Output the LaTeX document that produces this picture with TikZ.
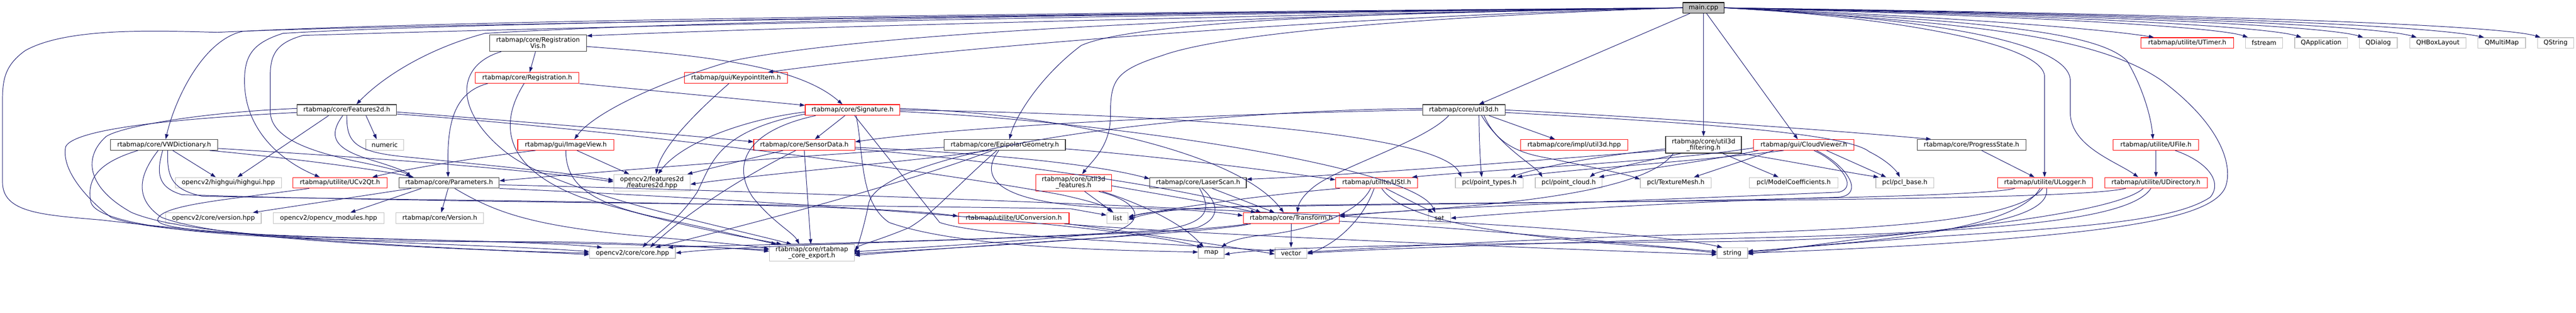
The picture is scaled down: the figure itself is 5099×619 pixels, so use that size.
\documentclass[tikz,border=0pt]{standalone}
\usepackage{fontspec}
\setmainfont{DejaVu Sans}
\usetikzlibrary{arrows.meta}
\definecolor{edgec}{HTML}{191970}
\definecolor{grayb}{HTML}{BFBFBF}
\tikzset{
 box/.style={draw, line width=1.3pt, inner sep=0pt, align=center, font=\fontsize{12.6}{12.2}\selectfont, text=black, minimum height=21pt},
 gbox/.style={box, draw=grayb},
 rbox/.style={box, draw=red},
 kbox/.style={box, draw=black!80},
 mbox/.style={box, draw=black, fill=grayb},
 tall/.style={minimum height=33pt},
 dep/.style={draw=edgec, line width=1pt, -{Triangle[length=10pt,width=7pt]}}
}
\begin{document}
\begin{tikzpicture}[x=1pt,y=-1pt]
\useasboundingbox (0,0) rectangle (5099,619);
% row 0
\node[mbox, minimum width=82pt] (main) at (3372,15.5) {main.cpp};
% row 1
\node[kbox, tall, minimum width=192pt] (regvis) at (1065,85) {rtabmap/core/Registration\\Vis.h};
\node[rbox, minimum width=183pt] (utimer) at (4329.5,85) {rtabmap/utilite/UTimer.h};
\node[gbox, minimum width=73pt] (fstream) at (4481.5,85) {fstream};
\node[gbox, minimum width=105pt] (qapp) at (4594.5,85) {QApplication};
\node[gbox, minimum width=75pt] (qdialog) at (4707.5,85) {QDialog};
\node[gbox, minimum width=111pt] (qhbox) at (4825.5,85) {QHBoxLayout};
\node[gbox, minimum width=94pt] (qmultimap) at (4952,85) {QMultiMap};
\node[gbox, minimum width=71pt] (qstring) at (5058.5,85) {QString};
% row 2
\node[rbox, minimum width=205pt] (reg) at (1043.5,154) {rtabmap/core/Registration.h};
\node[rbox, minimum width=204pt] (keypoint) at (1457,154) {rtabmap/gui/KeypointItem.h};
% row 3
\node[kbox, minimum width=197pt] (feat2d) at (686.5,217.5) {rtabmap/core/Features2d.h};
\node[rbox, minimum width=187pt] (sig) at (1687.5,217.5) {rtabmap/core/Signature.h};
\node[kbox, minimum width=163pt] (util3d) at (2897.5,217.5) {rtabmap/core/util3d.h};
% row 4
\node[kbox, minimum width=212pt] (vwdict) at (325,286.5) {rtabmap/core/VWDictionary.h};
\node[gbox, minimum width=75pt] (numeric) at (761.5,286.5) {numeric};
\node[rbox, minimum width=190pt] (imageview) at (1120,286.5) {rtabmap/gui/ImageView.h};
\node[rbox, minimum width=200pt] (sensordata) at (1592,286.5) {rtabmap/core/SensorData.h};
\node[kbox, minimum width=240pt] (epipolar) at (1989,286.5) {rtabmap/core/EpipolarGeometry.h};
\node[rbox, minimum width=212pt] (implutil3d) at (3116,286.5) {rtabmap/core/impl/util3d.hpp};
\node[kbox, tall, minimum width=150pt] (filtering) at (3372,286.5) {rtabmap/core/util3d\\\_filtering.h};
\node[rbox, minimum width=199pt] (cloudviewer) at (3570.5,286.5) {rtabmap/gui/CloudViewer.h};
\node[kbox, minimum width=215pt] (progress) at (3902.5,286.5) {rtabmap/core/ProgressState.h};
\node[rbox, minimum width=169pt] (ufile) at (4267.5,286.5) {rtabmap/utilite/UFile.h};
% row 5
\node[gbox, minimum width=210pt] (highgui) at (452,361.5) {opencv2/highgui/highgui.hpp};
\node[rbox, minimum width=186pt] (ucv2qt) at (673,361.5) {rtabmap/utilite/UCv2Qt.h};
\node[kbox, minimum width=198pt] (params) at (889,361.5) {rtabmap/core/Parameters.h};
\node[gbox, tall, minimum width=151pt] (cvfeat) at (1290.5,361.5) {opencv2/features2d\\/features2d.hpp};
\node[rbox, tall, minimum width=150pt] (features) at (2125,361.5) {rtabmap/core/util3d\\\_features.h};
\node[kbox, minimum width=191pt] (laserscan) at (2371.5,361.5) {rtabmap/core/LaserScan.h};
\node[rbox, minimum width=162pt] (ustl) at (2725,361.5) {rtabmap/utilite/UStl.h};
\node[gbox, minimum width=134pt] (pointtypes) at (2948,361.5) {pcl/point\_types.h};
\node[gbox, minimum width=132pt] (pointcloud) at (3105,361.5) {pcl/point\_cloud.h};
\node[gbox, minimum width=140pt] (texturemesh) at (3317,361.5) {pcl/TextureMesh.h};
\node[gbox, minimum width=175pt] (modelcoef) at (3550.5,361.5) {pcl/ModelCoefficients.h};
\node[gbox, minimum width=115pt] (pclbase) at (3770.5,361.5) {pcl/pcl\_base.h};
\node[rbox, minimum width=188pt] (ulogger) at (4048,361.5) {rtabmap/utilite/ULogger.h};
\node[rbox, minimum width=203pt] (udir) at (4267.5,361.5) {rtabmap/utilite/UDirectory.h};
% row 6
\node[gbox, minimum width=189pt] (cvversion) at (422.5,431.5) {opencv2/core/version.hpp};
\node[gbox, minimum width=219pt] (cvmodules) at (650.5,431.5) {opencv2/opencv\_modules.hpp};
\node[gbox, minimum width=173pt] (version) at (870.5,431.5) {rtabmap/core/Version.h};
\node[rbox, minimum width=219pt] (uconv) at (2006.5,431.5) {rtabmap/utilite/UConversion.h};
\node[gbox, minimum width=42pt] (list) at (2212,431.5) {list};
\node[rbox, minimum width=190pt] (transform) at (2556,431.5) {rtabmap/core/Transform.h};
\node[gbox, minimum width=44pt] (set) at (2849,431.5) {set};
% row 7
\node[gbox, minimum width=170pt] (corehpp) at (1252,500.5) {opencv2/core/core.hpp};
\node[gbox, tall, minimum width=168pt] (export) at (1607,500) {rtabmap/core/rtabmap\\\_core\_export.h};
\node[gbox, minimum width=51pt] (map) at (2397.5,500.5) {map};
\node[gbox, minimum width=63pt] (vector) at (2555.5,500.5) {vector};
\node[gbox, minimum width=60pt] (string) at (3429,500.5) {string};

% ---------- main.cpp ----------
\draw[dep] (main.west) .. controls (2200,24) and (900,40) .. (480,62) .. controls (400,80) and (345,200) .. ([xshift=3pt]vwdict.north);
\draw[dep] (main.west) .. controls (2300,26) and (1400,40) .. (960,66) .. controls (850,95) and (760,150) .. ([xshift=19pt]feat2d.north);
\draw[dep] (main.west) .. controls (2600,28) and (1600,52) .. ([yshift=-3pt]regvis.north east);
\draw[dep] (main.west) .. controls (2700,30) and (1900,90) .. ([xshift=63pt]keypoint.north);
\draw[dep] (main.west) .. controls (2500,30) and (1750,60) .. (1450,120) .. controls (1280,170) and (1170,230) .. ([xshift=17pt]imageview.north);
\draw[dep] (main.west) .. controls (2800,22) and (2250,40) .. (2140,90) .. controls (2060,150) and (2010,230) .. ([xshift=9pt]epipolar.north);
\draw[dep] (main.west) .. controls (3000,26) and (2450,55) .. (2300,110) .. controls (2205,140) and (2198,160) .. (2198,230) .. controls (2198,290) and (2160,320) .. ([xshift=17pt]features.north);
\draw[dep] (main.west) .. controls (2000,28) and (900,45) .. (560,66) .. controls (500,85) and (484,110) .. (484,160) .. controls (484,260) and (560,320) .. ([xshift=-40pt]ucv2qt.north);
\draw[dep] (main.west) .. controls (2000,32) and (1000,58) .. (600,70) .. controls (545,85) and (535,110) .. (535,150) -- (535,220) .. controls (535,275) and (620,300) .. (700,318) .. controls (760,330) and (800,340) .. ([xshift=-76pt]params.north);
\draw[dep] (main.west) .. controls (2000,30) and (700,50) .. (430,64) .. controls (300,60) and (130,55) .. (50,100) .. controls (8,130) and (5,160) .. (5,200) -- (5,360) .. controls (5,420) and (80,425) .. (200,435) .. controls (500,470) and (900,495) .. (corehpp.west);
\draw[dep] ([xshift=-27pt]main.south) -- ([xshift=30pt]util3d.north);
\draw[dep] (main.south) -- (filtering.north);
\draw[dep] ([xshift=6pt]main.south) -- ([xshift=-12pt]cloudviewer.north);
\draw[dep] (main.east) .. controls (3700,30) and (4040,80) .. (4047,150) -- ([xshift=-1pt]ulogger.north);
\draw[dep] (main.east) .. controls (3800,35) and (4098,80) .. (4098,160) -- (4098,225) .. controls (4100,290) and (4190,320) .. ([xshift=-35pt]udir.north);
\draw[dep] (main.east) .. controls (3900,40) and (4150,60) .. (4210,120) .. controls (4240,170) and (4258,230) .. ([xshift=-6pt]ufile.north);
\draw[dep] (main.east) .. controls (3900,45) and (4150,70) .. (4280,160) .. controls (4400,250) and (4420,330) .. (4405,370) .. controls (4380,430) and (4200,455) .. (3900,478) .. controls (3700,492) and (3550,497) .. (string.east);
\draw[dep] (main.east) .. controls (3800,30) and (4150,55) .. ([xshift=-66pt]utimer.north);
\draw[dep] (main.east) .. controls (3900,28) and (4380,50) .. ([xshift=-32pt]fstream.north);
\draw[dep] (main.east) .. controls (4000,28) and (4480,50) .. ([xshift=-39pt]qapp.north);
\draw[dep] (main.east) .. controls (4100,28) and (4600,50) .. ([xshift=-30pt]qdialog.north);
\draw[dep] (main.east) .. controls (4200,28) and (4700,50) .. ([xshift=-42pt]qhbox.north);
\draw[dep] (main.east) .. controls (4300,28) and (4800,50) .. ([xshift=-35pt]qmultimap.north);
\draw[dep] (main.east) .. controls (4400,28) and (4950,50) .. ([xshift=-30pt]qstring.north);

% ---------- RegistrationVis / Registration ----------
\draw[dep] ([xshift=-5pt]regvis.south) -- ([xshift=5pt]reg.north);
\draw[dep] ([yshift=-7pt]regvis.east) .. controls (1400,110) and (1580,130) .. ([xshift=-20pt]sig.north);
\draw[dep] ([xshift=-73pt]regvis.south) .. controls (900,130) and (900,220) .. (1000,300) .. controls (1100,380) and (1400,440) .. ([xshift=-40pt]export.north);
\draw[dep] ([xshift=-78pt]reg.south) .. controls (890,185) and (885,260) .. ([xshift=-2pt]params.north);
\draw[dep] (reg.south east) -- ([yshift=-2pt]sig.north west);
\draw[dep] ([xshift=-6pt]reg.south) .. controls (990,240) and (990,330) .. (1150,390) .. controls (1350,450) and (1480,470) .. ([xshift=-60pt]export.north);
\draw[dep] ([xshift=-14pt]keypoint.south) .. controls (1380,220) and (1310,290) .. ([xshift=8pt]cvfeat.north);

% ---------- Features2d ----------
\draw[dep] ([xshift=-36pt]feat2d.south) -- ([xshift=18pt]highgui.north);
\draw[dep] ([xshift=38pt]feat2d.south) -- ([xshift=-16pt]numeric.north);
\draw[dep] ([xshift=-8pt]feat2d.south) .. controls (640,280) and (680,300) .. (740,318) .. controls (780,330) and (805,340) .. ([xshift=-76pt]params.north);
\draw[dep] (feat2d.south) .. controls (686,280) and (700,300) .. (800,310) .. controls (1000,330) and (1150,345) .. ([yshift=5pt]cvfeat.west);
\draw[dep] ([yshift=-4pt]feat2d.east) .. controls (1000,238) and (1300,262) .. ([yshift=6pt]sensordata.west);
\draw[dep] ([yshift=-8pt]feat2d.east) .. controls (1200,255) and (1800,330) .. (2100,385) .. controls (2160,398) and (2190,408) .. ([xshift=-12pt]list.north);
\draw[dep] ([yshift=-5pt]feat2d.west) .. controls (400,232) and (150,250) .. (130,290) .. controls (120,340) and (180,400) .. (220,430) .. controls (350,480) and (1000,470) .. ([yshift=6pt]export.west);
\draw[dep] ([yshift=3pt]feat2d.west) .. controls (400,222) and (240,250) .. (210,270) .. controls (165,310) and (170,370) .. (260,420) .. controls (400,480) and (900,478) .. ([yshift=3pt]corehpp.west);

% ---------- VWDictionary ----------
\draw[dep] ([xshift=17pt]vwdict.south) -- ([xshift=-25pt]highgui.north);
\draw[dep] ([xshift=90pt]vwdict.south) .. controls (500,305) and (720,330) .. ([xshift=-70pt]params.north);
\draw[dep] ([yshift=-7pt]vwdict.east) .. controls (700,310) and (1000,330) .. ([yshift=2pt]cvfeat.west);
\draw[dep] ([xshift=-52pt]vwdict.south) .. controls (200,320) and (170,350) .. (180,400) .. controls (200,470) and (700,480) .. (1100,478) .. controls (1300,482) and (1450,490) .. ([yshift=3pt]export.west);
\draw[dep] ([xshift=-12pt]vwdict.south) .. controls (280,340) and (260,390) .. (320,430) .. controls (450,480) and (900,490) .. ([yshift=-3pt]corehpp.west);
\draw[dep] ([xshift=-3pt]vwdict.south) .. controls (310,340) and (310,370) .. (360,385) .. controls (800,400) and (1900,408) .. (2120,413) -- ([yshift=6pt]list.west);
\draw[dep] ([xshift=7pt]vwdict.south) .. controls (330,350) and (340,375) .. (400,388) .. controls (900,398) and (1700,400) .. ([yshift=4pt]uconv.west);

% ---------- UCv2Qt / Parameters ----------
\draw[dep] ([xshift=-61pt]ucv2qt.south) .. controls (450,395) and (315,405) .. (312,435) .. controls (310,475) and (1000,470) .. ([xshift=-60pt]corehpp.north);
\draw[dep] ([xshift=-75pt]params.south) -- ([xshift=78pt]cvversion.north);
\draw[dep] ([xshift=-55pt]params.south) -- ([xshift=43pt]cvmodules.north);
\draw[dep] ([xshift=-2pt]params.south) -- ([xshift=3pt]version.north);
\draw[dep] ([xshift=11pt]params.south) .. controls (980,420) and (1050,445) .. (1250,465) .. controls (1400,478) and (1480,485) .. ([yshift=8pt]export.west);
\draw[dep] (params.south east) .. controls (1500,395) and (2200,440) .. ([xshift=-18pt]map.north);
\draw[dep] ([yshift=-4pt]params.east) .. controls (1800,385) and (3200,440) .. ([xshift=-20pt]string.north);

% ---------- ImageView ----------
\draw[dep] ([xshift=-60pt]imageview.south) .. controls (950,310) and (800,335) .. ([xshift=64pt]ucv2qt.north);
\draw[dep] ([xshift=22pt]imageview.south) -- ([xshift=-45pt]cvfeat.north);
\draw[dep] (imageview.south) .. controls (1120,360) and (1160,400) .. (1300,430) .. controls (1420,455) and (1500,475) .. ([xshift=-70pt]export.north);

% ---------- Signature ----------
\draw[dep] ([xshift=-15pt]sig.south) -- ([xshift=21pt]sensordata.north);
\draw[dep] ([yshift=-4pt]sig.west) .. controls (1480,235) and (1350,280) .. ([xshift=12pt]cvfeat.north);
\draw[dep] ([yshift=-8pt]sig.west) .. controls (1420,260) and (1410,320) .. (1380,380) .. controls (1340,440) and (1290,470) .. ([xshift=20pt]corehpp.north);
\draw[dep] ([xshift=-73pt]sig.south) .. controls (1470,260) and (1450,330) .. (1490,390) .. controls (1530,440) and (1570,460) .. ([xshift=-25pt]export.north);
\draw[dep] ([yshift=3pt]sig.east) .. controls (2100,225) and (2450,300) .. ([xshift=-15pt]transform.north);
\draw[dep] (sig.east) .. controls (2300,225) and (2850,260) .. ([xshift=-55pt]pointtypes.north);
\draw[dep] ([xshift=7pt]sig.south) .. controls (1710,300) and (1700,400) .. (1760,440) .. controls (1900,490) and (2200,495) .. ([yshift=2pt]map.west);
\draw[dep] ([xshift=4pt]sig.south) -- (1860,440) .. controls (1950,470) and (2300,480) .. ([yshift=4pt]vector.west);
\draw[dep] ([yshift=-3pt]sig.east) .. controls (2200,240) and (2800,330) .. ([xshift=-8pt]set.north);

% ---------- SensorData ----------
\draw[dep] ([xshift=-42pt]sensordata.south) -- ([xshift=70pt]cvfeat.north);
\draw[dep] (sensordata.south) -- ([xshift=-2pt]export.north);
\draw[dep] ([xshift=-17pt]sensordata.south) .. controls (1450,360) and (1350,430) .. ([xshift=35pt]corehpp.north);
\draw[dep] ([yshift=-5pt]sensordata.east) .. controls (1900,300) and (2150,320) .. ([yshift=8pt]laserscan.west);
\draw[dep] ([yshift=-8pt]sensordata.east) .. controls (2000,320) and (2400,380) .. ([xshift=-60pt]transform.north);

% ---------- EpipolarGeometry ----------
\draw[dep] ([yshift=-5pt]epipolar.west) .. controls (1700,300) and (1300,330) .. ([yshift=4pt]params.east);
\draw[dep] ([xshift=-32pt]epipolar.south) .. controls (1800,320) and (1500,345) .. ([yshift=-3pt]cvfeat.east);
\draw[dep] ([xshift=-25pt]epipolar.south) .. controls (1800,360) and (1500,440) .. ([xshift=45pt]corehpp.north);
\draw[dep] ([xshift=-16pt]epipolar.south) .. controls (1880,380) and (1850,420) .. (1800,450) .. controls (1740,475) and (1700,485) .. ([yshift=4pt]export.east);
\draw[dep] ([xshift=-12pt]epipolar.south) .. controls (1930,360) and (1990,410) .. (2250,412) .. controls (2350,414) and (2420,420) .. ([yshift=5pt]transform.west);
\draw[dep] ([yshift=-8pt]epipolar.east) .. controls (2300,310) and (2500,335) .. ([yshift=6pt]ustl.west);

% ---------- util3d_features ----------
\draw[dep] ([xshift=22pt]features.south) -- ([xshift=-8pt]list.north);
\draw[dep] ([xshift=57pt]features.south) .. controls (2250,400) and (2340,440) .. ([xshift=-15pt]map.north);
\draw[dep] ([yshift=-6pt]features.east) .. controls (2300,385) and (2420,405) .. ([xshift=-70pt]transform.north);
\draw[dep] ([xshift=50pt]features.south) .. controls (2260,400) and (2270,440) .. (2200,460) .. controls (2000,480) and (1800,490) .. ([yshift=2pt]export.east);

% ---------- LaserScan ----------
\draw[dep] ([xshift=28pt]laserscan.south) -- ([xshift=-33pt]transform.north);
\draw[dep] ([xshift=8pt]laserscan.south) .. controls (2410,400) and (2420,430) .. (2370,450) .. controls (2200,475) and (1800,495) .. ([yshift=-2pt]export.east);
\draw[dep] ([xshift=3pt]laserscan.south) .. controls (2395,410) and (2400,440) .. (2300,455) .. controls (1900,480) and (1400,485) .. ([xshift=70pt]corehpp.north);

% ---------- UStl ----------
\draw[dep] ([xshift=-73pt]ustl.south) .. controls (2500,385) and (2300,415) .. ([yshift=3pt]list.east);
\draw[dep] ([xshift=18pt]ustl.south) -- ([xshift=-12pt]set.north);
\draw[dep] ([xshift=-5pt]ustl.south) .. controls (2700,430) and (2650,480) .. ([yshift=-2pt]vector.east);
\draw[dep] ([xshift=-12pt]ustl.south) .. controls (2690,420) and (2600,455) .. (2500,465) .. controls (2450,470) and (2430,480) .. ([xshift=20pt]map.north);
\draw[dep] ([xshift=10pt]ustl.south) .. controls (2780,440) and (3000,470) .. (3300,490) .. controls (3350,495) and (3380,498) .. (string.west);

% ---------- Transform ----------
\draw[dep] (transform.south) -- (vector.north);
\draw[dep] ([xshift=-80pt]transform.south) .. controls (2400,460) and (2000,480) .. ([yshift=-5pt]export.east);
\draw[dep] ([xshift=-86pt]transform.south) .. controls (2300,470) and (1500,480) .. (corehpp.east);
\draw[dep] ([yshift=-6pt]transform.east) .. controls (2900,450) and (3200,480) .. ([yshift=3pt]string.west);

% ---------- UConversion ----------
\draw[dep] ([xshift=100pt]uconv.south) .. controls (2300,460) and (3000,490) .. ([yshift=-3pt]string.west);
\draw[dep] ([xshift=105pt]uconv.south) .. controls (2250,460) and (2450,490) .. ([yshift=-2pt]vector.west);

% ---------- util3d ----------
\draw[dep] ([xshift=-30pt]util3d.south) .. controls (2820,280) and (2650,330) .. (2600,370) .. controls (2575,390) and (2570,405) .. ([xshift=12pt]transform.north);
\draw[dep] ([xshift=30pt]util3d.south) .. controls (2928,280) and (2930,320) .. ([xshift=-15pt]pointtypes.north);
\draw[dep] ([xshift=35pt]util3d.south) .. controls (2970,290) and (3040,330) .. ([xshift=-52pt]pointcloud.north);
\draw[dep] ([xshift=40pt]util3d.south) .. controls (2960,280) and (3000,300) .. (3050,310) .. controls (3150,330) and (3220,345) .. ([yshift=7pt]texturemesh.west);
\draw[dep] ([xshift=50pt]util3d.south) -- ([xshift=-38pt]implutil3d.north);
\draw[dep] (util3d.east) .. controls (3200,228) and (3600,255) .. ([xshift=-80pt]progress.north);
\draw[dep] ([yshift=-5pt]util3d.east) .. controls (3300,240) and (3650,260) .. (3700,300) .. controls (3740,320) and (3755,340) .. ([xshift=-10pt]pclbase.north);
\draw[dep] (util3d.west) .. controls (2400,225) and (1900,250) .. ([yshift=6pt]sensordata.east);
\draw[dep] ([yshift=3pt]util3d.west) .. controls (2300,220) and (1750,300) .. (1720,400) .. controls (1710,450) and (1700,480) .. ([yshift=-4pt]export.east);

% ---------- util3d_filtering ----------
\draw[dep] ([xshift=-45pt]filtering.south) .. controls (3250,320) and (3160,340) .. ([xshift=42pt]pointcloud.north);
\draw[dep] ([yshift=-8pt]filtering.west) .. controls (3150,310) and (3050,330) .. ([xshift=42pt]pointtypes.north);
\draw[dep] ([xshift=38pt]filtering.south) -- ([xshift=-30pt]modelcoef.north);
\draw[dep] (filtering.south east) .. controls (3550,320) and (3650,340) .. ([xshift=-52pt]pclbase.north);
\draw[dep] ([yshift=-11pt]filtering.west) .. controls (3000,320) and (2700,345) .. ([yshift=7pt]laserscan.east);
\draw[dep] ([xshift=-60pt]filtering.south) .. controls (3250,390) and (2900,410) .. ([yshift=6pt]transform.east);

% ---------- CloudViewer ----------
\draw[dep] ([xshift=-40pt]cloudviewer.south) .. controls (3350,320) and (3100,335) .. ([xshift=55pt]pointtypes.north);
\draw[dep] ([xshift=-90pt]cloudviewer.south) .. controls (3400,315) and (3250,335) .. ([xshift=60pt]pointcloud.north);
\draw[dep] ([xshift=-60pt]cloudviewer.south) -- ([xshift=36pt]texturemesh.north);
\draw[dep] ([xshift=45pt]cloudviewer.south) -- ([xshift=-37pt]pclbase.north);
\draw[dep] ([xshift=20pt]cloudviewer.south) .. controls (3640,320) and (3680,370) .. (3640,380) .. controls (3300,395) and (2800,410) .. ([yshift=3pt]transform.east);
\draw[dep] ([xshift=25pt]cloudviewer.south) .. controls (3660,330) and (3690,385) .. (3640,390) .. controls (3300,400) and (3000,420) .. (set.east);
\draw[dep] ([yshift=-6pt]cloudviewer.west) .. controls (3300,320) and (2950,335) .. ([xshift=70pt]ustl.north);

% ---------- ProgressState / ULogger / UDirectory / UFile ----------
\draw[dep] ([xshift=20pt]progress.south) -- ([xshift=-21pt]ulogger.north);
\draw[dep] ([xshift=-10pt]ulogger.south) .. controls (4000,440) and (3800,470) .. (3600,485) .. controls (3520,492) and (3480,497) .. ([yshift=2pt]string.east);
\draw[dep] ([xshift=-5pt]ulogger.south) .. controls (3990,440) and (3700,455) .. (3300,465) .. controls (2900,478) and (2650,495) .. ([yshift=2pt]vector.east);
\draw[dep] ([xshift=3pt]ulogger.south) .. controls (4060,430) and (3900,470) .. (3400,478) .. controls (2800,482) and (2500,490) .. ([yshift=-3pt]map.east);
\draw[dep] ([xshift=-60pt]ulogger.south) .. controls (3900,395) and (3000,400) .. (2400,410) .. controls (2300,415) and (2260,425) .. ([yshift=-3pt]list.east);
\draw[dep] ([xshift=-25pt]udir.south) .. controls (4200,410) and (4000,440) .. (3700,470) .. controls (3550,490) and (3500,497) .. ([yshift=-2pt]string.east);
\draw[dep] ([xshift=-10pt]udir.south) .. controls (4220,430) and (4000,460) .. (3400,472) .. controls (2900,484) and (2650,497) .. (vector.east);
\draw[dep] ([xshift=-60pt]udir.south) .. controls (4100,398) and (3200,396) .. (2500,407) .. controls (2320,412) and (2260,420) .. (list.east);
\draw[dep] (ufile.south) -- (udir.north);
\draw[dep] ([xshift=38pt]ufile.south) .. controls (4370,320) and (4400,360) .. (4375,390) .. controls (4300,440) and (4100,450) .. (3800,470) .. controls (3600,485) and (3500,495) .. ([yshift=4pt]string.east);
\end{tikzpicture}
\end{document}
